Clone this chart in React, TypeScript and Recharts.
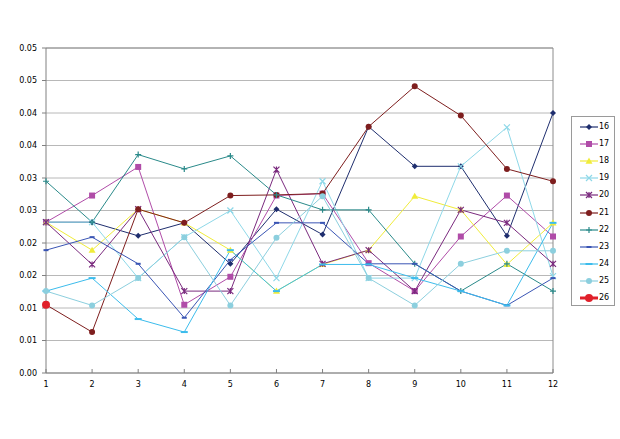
import { CartesianGrid, Legend, Line, LineChart, ReferenceLine, XAxis, YAxis } from "recharts";

const xValues = [1, 2, 3, 4, 5, 6, 7, 8, 9, 10, 11, 12];

const s16 = [0.0232, 0.0232, 0.0211, 0.0231, 0.0168, 0.0252, 0.0213, 0.0379, 0.0318, 0.0318, 0.0211, 0.04];
const s17 = [0.0232, 0.0273, 0.0317, 0.0105, 0.0148, 0.0273, 0.0276, 0.0169, 0.0126, 0.021, 0.0273, 0.021];
const s18 = [0.0232, 0.0189, 0.0252, 0.0231, 0.0189, 0.0126, 0.0167, 0.0189, 0.0272, 0.0251, 0.0167, 0.0231];
const s19 = [0.0232, 0.0232, 0.0146, 0.0209, 0.025, 0.0146, 0.0295, 0.0146, 0.0146, 0.0318, 0.0378, 0.0149];
const s20 = [0.0232, 0.0167, 0.0252, 0.0126, 0.0126, 0.0313, 0.0168, 0.0189, 0.0126, 0.0251, 0.0231, 0.0168];
const s21 = [0.0105, 0.0063, 0.0252, 0.0231, 0.0273, 0.0274, 0.0276, 0.0379, 0.0441, 0.0396, 0.0314, 0.0295];
const s22 = [0.0295, 0.0232, 0.0336, 0.0314, 0.0334, 0.0274, 0.0251, 0.0251, 0.0168, 0.0126, 0.0168, 0.0126];
const s23 = [0.0189, 0.0209, 0.0168, 0.0085, 0.0174, 0.0231, 0.0231, 0.0168, 0.0168, 0.0126, 0.0104, 0.0146];
const s24 = [0.0126, 0.0146, 0.0083, 0.0063, 0.0189, 0.0126, 0.0167, 0.0167, 0.0146, 0.0126, 0.0104, 0.0231];
const s25 = [0.0126, 0.0104, 0.0146, 0.0209, 0.0104, 0.0208, 0.0272, 0.0146, 0.0104, 0.0168, 0.0188, 0.0188];
const s26 = [0.0105, null, null, null, null, null, null, null, null, null, null, null];

const seriesNames = ["16", "17", "18", "19", "20", "21", "22", "23", "24", "25", "26"];
const seriesValues = [s16, s17, s18, s19, s20, s21, s22, s23, s24, s25, s26];

const yTicks = [0, 0.005, 0.01, 0.015, 0.02, 0.025, 0.03, 0.035, 0.04, 0.045, 0.05];
const yTickLabels = ["0.00", "0.01", "0.01", "0.02", "0.02", "0.03", "0.03", "0.04", "0.04", "0.05", "0.05"];

type Shape = "diamond" | "square" | "triangle" | "x" | "star" | "circle" | "plus" | "dash" | "longdash" | "dot" | "big";

const looks: { color: string; shape: Shape; size: number }[] = [
  { color: "#1f2e6e", shape: "diamond", size: 3 },
  { color: "#b04ca8", shape: "square", size: 3 },
  { color: "#f0ec3a", shape: "triangle", size: 3.5 },
  { color: "#8ed8e8", shape: "x", size: 3 },
  { color: "#7a2a7e", shape: "star", size: 3 },
  { color: "#7e1e1e", shape: "circle", size: 3 },
  { color: "#2a8a8a", shape: "plus", size: 3 },
  { color: "#3a55b4", shape: "dash", size: 2.5 },
  { color: "#3cbcec", shape: "longdash", size: 3.5 },
  { color: "#8ccfde", shape: "dot", size: 3 },
  { color: "#e0202a", shape: "big", size: 4 },
];

const font = "'DejaVu Sans', Verdana, sans-serif";

const data = xValues.map((x, i) => {
  const row: Record<string, number | null> = { x };
  seriesNames.forEach((n, j) => {
    row["s" + n] = seriesValues[j][i];
  });
  return row;
});

function Marker({ cx, cy, shape, color, size }: { cx: number; cy: number; shape: Shape; color: string; size: number }) {
  const s = size;
  switch (shape) {
    case "diamond":
      return <polygon points={`${cx},${cy - s} ${cx + s},${cy} ${cx},${cy + s} ${cx - s},${cy}`} fill={color} />;
    case "square":
      return <rect x={cx - s} y={cy - s} width={2 * s} height={2 * s} fill={color} />;
    case "triangle":
      return <polygon points={`${cx},${cy - s} ${cx + s},${cy + s * 0.75} ${cx - s},${cy + s * 0.75}`} fill={color} />;
    case "x":
      return <path d={`M${cx - s},${cy - s}L${cx + s},${cy + s}M${cx + s},${cy - s}L${cx - s},${cy + s}`} stroke={color} strokeWidth={1.2} />;
    case "star":
      return (
        <path
          d={`M${cx - s},${cy - s}L${cx + s},${cy + s}M${cx + s},${cy - s}L${cx - s},${cy + s}M${cx},${cy - s}L${cx},${cy + s}`}
          stroke={color}
          strokeWidth={1.2}
        />
      );
    case "circle":
      return <circle cx={cx} cy={cy} r={s} fill={color} />;
    case "plus":
      return <path d={`M${cx - s},${cy}L${cx + s},${cy}M${cx},${cy - s}L${cx},${cy + s}`} stroke={color} strokeWidth={1.2} />;
    case "dash":
      return <path d={`M${cx - s},${cy}L${cx + s},${cy}`} stroke={color} strokeWidth={2} />;
    case "longdash":
      return <path d={`M${cx - s},${cy}L${cx + s},${cy}`} stroke={color} strokeWidth={2} />;
    case "dot":
      return <circle cx={cx} cy={cy} r={s} fill={color} />;
    case "big":
      return <circle cx={cx} cy={cy} r={s} fill={color} />;
  }
  return null;
}

const makeDot = (idx: number) => (p: any) => {
  const key = `d-${idx}-${p.index}`;
  if (p.cx == null || p.cy == null || p.value == null) return <g key={key} />;
  const lk = looks[idx];
  return (
    <g key={key}>
      <Marker cx={p.cx} cy={p.cy} shape={lk.shape} color={lk.color} size={lk.size} />
    </g>
  );
};

const renderLegend = (props: any) => {
  const payload = props.payload || [];
  return (
    <div
      style={{
        border: "1px solid #9a9a9a",
        width: 42,
        height: 187,
        paddingTop: 1,
        boxSizing: "content-box",
        background: "#fff",
        fontFamily: font,
        fontSize: 8,
      }}
    >
      {payload.map((entry: any, i: number) => {
        const lk = looks[i];
        return (
          <div key={entry.value} style={{ display: "flex", alignItems: "center", height: 17.2 }}>
            <svg width={27} height={12} style={{ display: "block" }}>
              <line x1={8} x2={26} y1={6} y2={6} stroke={lk.color} strokeWidth={lk.shape === "big" ? 3 : 1.2} />
              <Marker cx={17} cy={6} shape={lk.shape} color={lk.color} size={lk.size} />
            </svg>
            <span style={{ color: "#000", lineHeight: "12px" }}>{entry.value}</span>
          </div>
        );
      })}
    </div>
  );
};

export default function App() {
  return (
    <div style={{ width: 620, height: 439, background: "#fff" }}>
      <style>{"body{margin:0}"}</style>
      <LineChart width={620} height={439} data={data} margin={{ top: 48, right: 67, bottom: 36, left: 6 }}>
        <CartesianGrid vertical={false} stroke="#b8b8b8" />
        <XAxis
          dataKey="x"
          type="number"
          domain={[1, 12]}
          ticks={xValues}
          height={30}
          stroke="#808080"
          tickSize={-4}
          tickMargin={12}
          tick={{ fontSize: 8, fill: "#000", fontFamily: font }}
        />
        <YAxis
          domain={[0, 0.05]}
          ticks={yTicks}
          width={40}
          stroke="#808080"
          tickSize={4}
          tickMargin={5}
          tickFormatter={(_v: number, i: number) => yTickLabels[i]}
          tick={{ fontSize: 8, fill: "#000", fontFamily: font }}
        />
        <ReferenceLine y={0.05} stroke="#8c8c8c" />
        <ReferenceLine x={12} stroke="#8c8c8c" />
        <Legend
          layout="vertical"
          align="center"
          verticalAlign="middle"
          content={renderLegend}
          wrapperStyle={{ position: "absolute", left: 571, top: 116, width: 44 }}
        />
        {seriesNames.map((n, i) => (
          <Line
            key={n}
            name={n}
            dataKey={"s" + n}
            stroke={looks[i].color}
            strokeWidth={1}
            dot={makeDot(i)}
            activeDot={false}
            isAnimationActive={false}
          />
        ))}
      </LineChart>
    </div>
  );
}
